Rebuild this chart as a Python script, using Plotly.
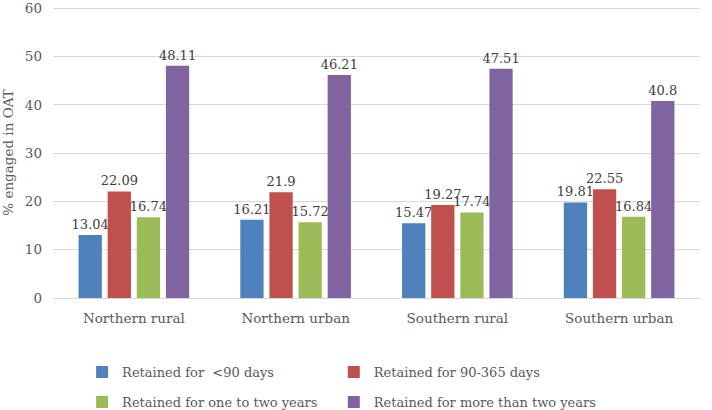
import plotly.graph_objects as go

categories = ["Northern rural", "Northern urban", "Southern rural", "Southern urban"]
series_names = ["Retained for  <90 days", "Retained for 90-365 days",
                "Retained for one to two years", "Retained for more than two years"]
lt90 = [13.04, 16.21, 15.47, 19.81]
d90_365 = [22.09, 21.9, 19.27, 22.55]
one_two = [16.74, 15.72, 17.74, 16.84]
more_two = [48.11, 46.21, 47.51, 40.8]
label_text = [["13.04", "16.21", "15.47", "19.81"],
              ["22.09", "21.9", "19.27", "22.55"],
              ["16.74", "15.72", "17.74", "16.84"],
              ["48.11", "46.21", "47.51", "40.8"]]
y_ticks = [0, 10, 20, 30, 40, 50, 60]
colors = ["#4F81BD", "#C0504D", "#9BBB59", "#8064A2"]
legends = ["legend", "legend2", "legend3", "legend4"]

FONT = "DejaVu Serif"
fig = go.Figure()
for name, vals, txt, col, lg in zip(series_names, [lt90, d90_365, one_two, more_two],
                                     label_text, colors, legends):
    fig.add_trace(go.Bar(
        x=categories, y=vals, name=name, marker=dict(color=col, line=dict(width=0)),
        text=txt, texttemplate="%{text}", textposition="outside", cliponaxis=False,
        constraintext="none", textfont=dict(family=FONT, size=13, color="#404040"),
        legend=lg, showlegend=True,
    ))

legend_font = dict(family=FONT, size=13, color="#595959")
def leg(x, y):
    return dict(orientation="h", x=x, xanchor="left", y=y, yanchor="top", itemwidth=30,
                font=legend_font, bgcolor="rgba(0,0,0,0)", visible=True)

fig.update_layout(
    width=712, height=410, showlegend=True,
    margin=dict(l=53, r=12, t=6.5, b=112, autoexpand=False),
    paper_bgcolor="white", plot_bgcolor="white",
    barmode="group", bargap=0.28, bargroupgap=0.2,
    font=dict(family=FONT, size=13, color="#595959"),
    yaxis=dict(range=[0, 60.3], tickvals=y_ticks, ticktext=[str(v) for v in y_ticks],
               showgrid=True, gridcolor="#D9D9D9", gridwidth=1, automargin=False,
               zeroline=False, showline=False, ticks="", ticklabelstandoff=10,
               ticklabeloverflow="allow",
               title=dict(text="% engaged in OAT", standoff=9,
                          font=dict(family=FONT, size=13.5, color="#595959")),
               tickfont=dict(family=FONT, size=13.5, color="#595959")),
    xaxis=dict(showline=True, linecolor="#D9D9D9", linewidth=1, ticks="", automargin=False,
               ticklabelstandoff=8,
               tickfont=dict(family=FONT, size=13.5, color="#595959")),
    legend=leg(0.045, -0.203),
    legend2=leg(0.434, -0.203),
    legend3=leg(0.045, -0.306),
    legend4=leg(0.434, -0.306),
)

fig.write_html("out.html", config={"displayModeBar": False},
               post_script="document.body.style.margin='0';document.body.style.overflow='hidden';")
